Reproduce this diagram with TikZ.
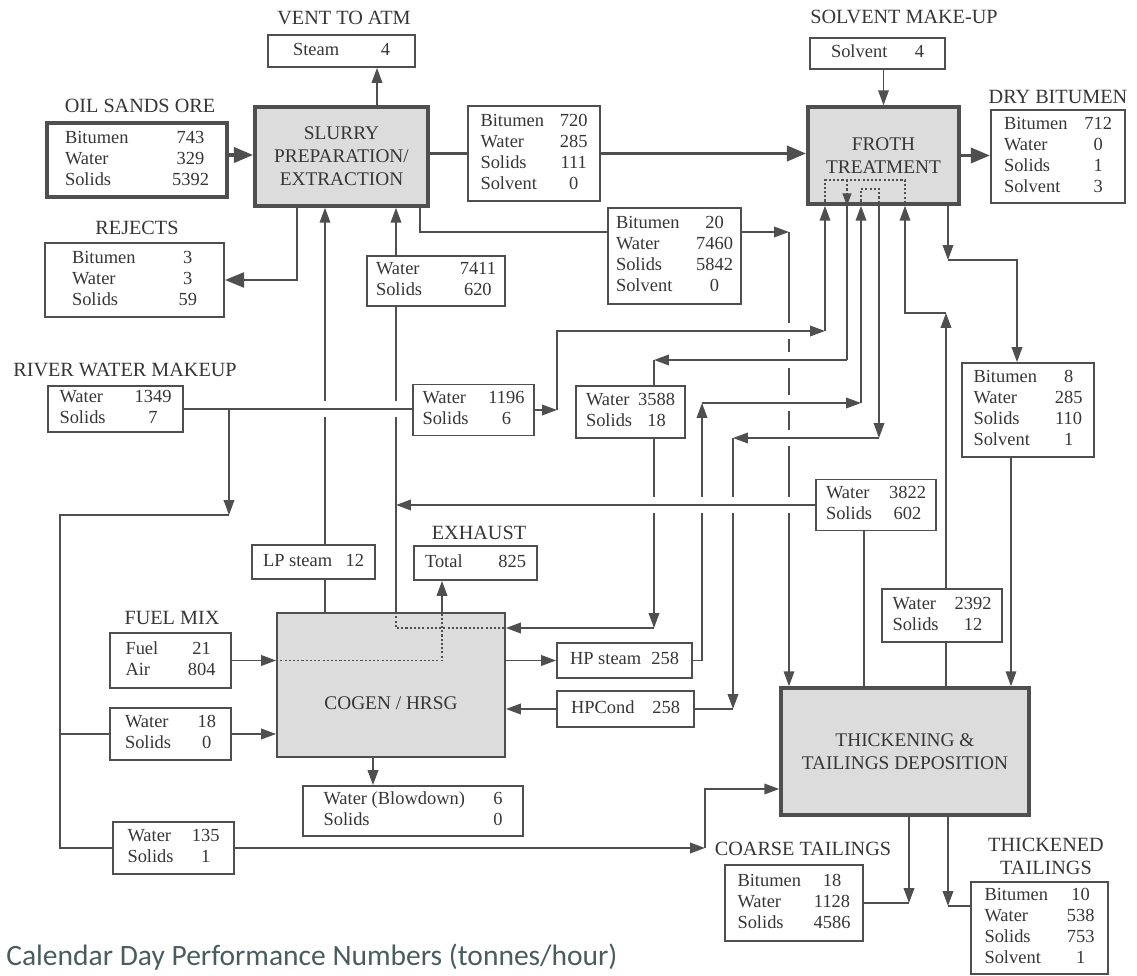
\documentclass[tikz,border=0pt]{standalone}
\usepackage{fontspec}
\setmainfont{Liberation Serif}
\newfontfamily\capfont{Carlito}
\usetikzlibrary{arrows.meta}
\definecolor{ink}{HTML}{4F4F4F}
\definecolor{txt}{HTML}{363636}
\definecolor{unitfill}{HTML}{DCDCDC}
\definecolor{capcol}{HTML}{4A5C5E}
\newcommand\boxfont{\fontsize{10.5}{12}\selectfont}
\newcommand\headfont{\fontsize{11.5}{13}\selectfont}
\newcommand\unitfont{\fontsize{11}{13}\selectfont}
\newcommand\rows[2]{\begin{tabular*}{#1}{@{}l@{\extracolsep{\fill}}c@{}}#2\end{tabular*}}
\tikzset{pipe/.style = {draw=ink, line width=1pt}}
\tikzset{flow/.style = {pipe, -{Triangle[length=8.5pt, width=6pt]}}}
\tikzset{bigflow/.style = {draw=ink, line width=2.2pt, -{Triangle[length=11pt, width=8.5pt]}}}
\tikzset{hop/.style = {preaction={draw=white, line width=9pt, arrows=-, shorten <=5pt, shorten >=5pt}}}
\tikzset{inline/.style = {draw=ink, line width=1pt, dash pattern=on 1.2pt off 1.2pt}}
\tikzset{box/.style = {draw=ink, line width=1pt, fill=white, text=txt, font=\boxfont, inner sep=0pt}}
\tikzset{unit/.style = {box, line width=2pt, fill=unitfill, font=\unitfont, align=center}}
\tikzset{heading/.style = {text=txt, font=\headfont, inner sep=0pt, align=center}}

\begin{document}
\begin{tikzpicture}[x=0.02cm, y=-0.02cm]
    \useasboundingbox (0,0) rectangle (1137,976);

    % units
    \node [unit, minimum width=3.46cm, minimum height=1.98cm] (slurry) at (341.5,156.5) {SLURRY\\PREPARATION/\\EXTRACTION};
    \node [unit, minimum width=3.02cm, minimum height=1.94cm] (froth) at (883.5,155.5) {FROTH\\TREATMENT};
    \node [unit, line width=1pt, minimum width=4.56cm, minimum height=2.88cm] (cogen) at (391,685) {};
    \node [text=txt, font=\unitfont, inner sep=0pt] (cogentxt) at (391,703) {COGEN / HRSG};
    \node [unit, minimum width=4.96cm, minimum height=2.54cm] (thick) at (905,751.5) {THICKENING \&\\TAILINGS DEPOSITION};

    % streams
    \node [heading] (ventT) at (344,18) {VENT TO ATM};
    \node [box, minimum width=2.94cm, minimum height=0.64cm] (vent) at (341.5,51) {\rows{1.94cm}{Steam & 4}};

    \node [heading] (oreT) at (140,106) {OIL SANDS ORE};
    \node [box, line width=2pt, minimum width=3.6cm, minimum height=1.48cm] (ore) at (137,160)
        {\rows{2.88cm}{Bitumen & 743\\ Water & 329\\ Solids & 5392}};

    \node [heading] (rejT) at (137,228) {REJECTS};
    \node [box, minimum width=3.58cm, minimum height=1.48cm] (rejects) at (134.5,280)
        {\rows{2.5cm}{Bitumen & 3\\ Water & 3\\ Solids & 59}};

    \node [box, minimum width=2.64cm, minimum height=1.9cm] (s720) at (534,153.5)
        {\rows{2.14cm}{Bitumen & 720\\ Water & 285\\ Solids & 111\\ Solvent & 0}};

    \node [heading] (solvT) at (904,17) {SOLVENT MAKE-UP};
    \node [box, minimum width=2.7cm, minimum height=0.62cm] (solvmk) at (877.5,53.5) {\rows{1.86cm}{Solvent & 4}};

    \node [heading] (dryT) at (1058,97) {DRY BITUMEN};
    \node [box, minimum width=2.68cm, minimum height=1.86cm] (dry) at (1058,156.5)
        {\rows{2.16cm}{Bitumen & 712\\ Water & 0\\ Solids & 1\\ Solvent & 3}};

    \node [box, minimum width=2.66cm, minimum height=1.92cm] (s7460) at (674.5,256)
        {\rows{2.34cm}{Bitumen & 20\\ Water & 7460\\ Solids & 5842\\ Solvent & 0}};
    \node [box, minimum width=2.76cm, minimum height=1cm] (w7411) at (436,281)
        {\rows{2.4cm}{Water & 7411\\ Solids & 620}};

    \node [heading] (rivT) at (125,370) {RIVER WATER MAKEUP};
    \node [box, minimum width=2.7cm, minimum height=0.92cm] (river) at (115.5,409)
        {\rows{2.24cm}{Water & 1349\\ Solids & 7}};
    \node [box, minimum width=2.42cm, minimum height=1.02cm] (w1196) at (473.5,410)
        {\rows{2.04cm}{Water & 1196\\ Solids & 6}};
    \node [box, minimum width=2.18cm, minimum height=1.04cm] (w3588) at (630.5,412)
        {\rows{1.78cm}{Water & 3588\\ Solids & 18}};
    \node [box, minimum width=2.64cm, minimum height=1.88cm] (bit8) at (1028,410)
        {\rows{2.18cm}{Bitumen & 8\\ Water & 285\\ Solids & 110\\ Solvent & 1}};
    \node [box, minimum width=2.4cm, minimum height=1.02cm] (w3822) at (876,505)
        {\rows{2cm}{Water & 3822\\ Solids & 602}};
    \node [box, minimum width=2.4cm, minimum height=1.06cm] (w2392) at (942,615.5)
        {\rows{1.98cm}{Water & 2392\\ Solids & 12}};

    \node [box, minimum width=2.46cm, minimum height=0.68cm] (lp) at (313.5,562) {\rows{2.02cm}{LP steam & 12}};
    \node [heading] (exhT) at (479,533) {EXHAUST};
    \node [box, minimum width=2.46cm, minimum height=0.68cm] (exhaust) at (475.5,563) {\rows{2.02cm}{Total & 825}};

    \node [heading] (fuelT) at (172,618) {FUEL MIX};
    \node [box, minimum width=2.42cm, minimum height=1.1cm] (fuel) at (170.5,660.5)
        {\rows{1.8cm}{Fuel & 21\\ Air & 804}};
    \node [box, minimum width=2.42cm, minimum height=1.04cm] (w18) at (170.5,734)
        {\rows{1.82cm}{Water & 18\\ Solids & 0}};
    \node [box, minimum width=2.7cm, minimum height=0.7cm] (hpsteam) at (624.5,660.5) {\rows{2.18cm}{HP steam & 258}};
    \node [box, minimum width=2.74cm, minimum height=0.72cm] (hpcond) at (625.5,709) {\rows{2.18cm}{HPCond & 258}};
    \node [box, minimum width=4.4cm, minimum height=1cm] (blow) at (413,811)
        {\rows{3.58cm}{Water (Blowdown) & 6\\ Solids & 0}};
    \node [box, minimum width=2.42cm, minimum height=1.04cm] (w135) at (173.5,848)
        {\rows{1.84cm}{Water & 135\\ Solids & 1}};

    \node [heading] (coarseT) at (803,849) {COARSE TAILINGS};
    \node [box, minimum width=2.76cm, minimum height=1.52cm] (coarse) at (794,903)
        {\rows{2.26cm}{Bitumen & 18\\ Water & 1128\\ Solids & 4586}};
    \node [heading] (thkT) at (1046,856) {THICKENED\\TAILINGS};
    \node [box, minimum width=2.74cm, minimum height=1.84cm] (thickened) at (1039.5,928)
        {\rows{2.2cm}{Bitumen & 10\\ Water & 538\\ Solids & 753\\ Solvent & 1}};

    \node [anchor=west, inner sep=0pt, text=capcol, font={\capfont\fontsize{16.8}{20}\selectfont}] (caption) at (6,957)
        {Calendar Day Performance Numbers (tonnes/hour)};

    % corner points
    \coordinate (oreA) at (0,155);
    \coordinate (ventx) at (377,0);
    \coordinate (rejc) at (297,280);
    \coordinate (lpx) at (325,0);
    \coordinate (wx) at (396,628);
    \coordinate (tailA) at (420,232);
    \coordinate (tailB) at (789,232);
    \coordinate (uA) at (557,0);
    \coordinate (uB) at (825,331);
    \coordinate (fb) at (847,360);
    \coordinate (c3588t) at (654,360);
    \coordinate (c3588b) at (654,628);
    \coordinate (hpA) at (702,403);
    \coordinate (hpB) at (861,403);
    \coordinate (hcA) at (879,438);
    \coordinate (hcB) at (733,438);
    \coordinate (pA) at (946,313);
    \coordinate (pB) at (905,313);
    \coordinate (gA) at (948,260);
    \coordinate (gB) at (1017,0);
    \coordinate (bx) at (1011,0);
    \coordinate (qx) at (864,0);
    \coordinate (kA) at (909,0);
    \coordinate (tA) at (948,906);
    \coordinate (mA) at (705,789);
    \coordinate (rA) at (229,515);
    \coordinate (lA) at (60,0);
    \coordinate (ex) at (442,0);
    \coordinate (bl) at (373,0);
    \coordinate (fd1) at (0,180);
    \coordinate (fd2) at (0,189);

    % main line
    \draw [bigflow] (ore.east |- oreA) -- (slurry.west |- oreA);
    \draw [draw=ink, line width=2.2pt] (s720.west -| slurry.east) -- (s720.west);
    \draw [bigflow] (s720.east) -- (s720.east -| froth.west);
    \draw [bigflow] (froth.east) -- (froth.east -| dry.west);
    \draw [bigflow, line width=1.6pt] (slurry.south -| rejc) |- (rejects.east);
    \draw [flow] (slurry.north -| ventx) -- (vent.south -| ventx);
    \draw [flow] (solvmk.south -| froth.north) -- (froth.north);

    % verticals first
    \draw [pipe] (slurry.south -| tailA) |- (s7460.west |- tailA);
    \draw [flow] (s7460.east |- tailB) -- (tailB);
    \draw [flow] (tailB) -- (thick.north -| tailB);
    \draw [pipe] (cogen.north -| lpx) -- (lp.south -| lpx);
    \draw [flow] (lp.north -| lpx) -- (slurry.south -| lpx);
    \draw [flow] (w7411.north -| wx) -- (slurry.south -| wx);
    \draw [pipe] (w7411.south -| wx) -- (cogen.north -| wx);
    \draw [pipe] (froth.south -| fb) -- (fb);
    \draw [pipe] (c3588t) -- (w3588.north -| c3588t);
    \draw [flow] (w3588.south -| c3588b) -- (c3588b);
    \draw [flow] (c3588b) -- (c3588b -| cogen.east);
    \draw [flow] (hpsteam.east) -| (hpA);
    \draw [flow] (hpB) -- (froth.south -| hpB);
    \draw [flow] (froth.south -| hcA) -- (hcA);
    \draw [flow] (hcB) -- (hcB |- hpcond.east);
    \draw [pipe] (hcB |- hpcond.east) -- (hpcond.east);
    \draw [flow] (hpcond.west) -- (hpcond.west -| cogen.east);
    \draw [flow] (hpsteam.west -| cogen.east) -- (hpsteam.west);
    \draw [flow] (w1196.east) -- (w1196.east -| uA);
    \draw [flow] (uB) -- (froth.south -| uB);
    \draw [flow] (w2392.north -| pA) -- (pA);
    \draw [flow] (pA) -| (froth.south -| pB);
    \draw [flow] (froth.south -| gA) -- (gA);
    \draw [flow] (gA) -| (bit8.north -| gB);
    \draw [flow] (bit8.south -| bx) -- (thick.north -| bx);
    \draw [pipe] (w2392.south -| pA) -- (thick.north -| pA);
    \draw [pipe] (thick.north -| qx) -- (w3822.south -| qx);

    % crossings over the verticals
    \draw [pipe, hop] (river.east) -- (w1196.west |- river.east);
    \draw [flow, hop] (w1196.east -| uA) |- (uB);
    \draw [flow, hop] (fb) -- (c3588t);
    \draw [flow, hop] (hpA) -- (hpB);
    \draw [flow, hop] (hcA) -- (hcB);
    \draw [flow, hop] (w3822.west) -- (w3822.west -| wx);

    % make-up water and tailings
    \draw [flow] (river.east -| rA) -- (rA);
    \draw [pipe] (rA) -| (lA |- w135.west) -- (w135.west);
    \draw [pipe] (lA |- w18.west) -- (w18.west);
    \draw [flow] (w18.east) -- (w18.east -| cogen.west);
    \draw [flow] (fuel.east) -- (fuel.east -| cogen.west);
    \draw [flow] (w135.east) -- (w135.east -| mA);
    \draw [flow] (w135.east -| mA) |- (thick.west |- mA);
    \draw [flow] (thick.south -| kA) -- (kA |- coarse.east);
    \draw [pipe] (kA |- coarse.east) -- (coarse.east);
    \draw [flow] (thick.south -| tA) -- (tA);
    \draw [pipe] (tA) -- (tA -| thickened.west);
    \draw [flow] (cogen.north -| ex) -- (exhaust.south -| ex);
    \draw [flow] (cogen.south -| bl) -- (blow.north -| bl);

    % paths inside the units
    \draw [inline] (fuel.east -| cogen.west) -- (fuel.east -| ex) -- (cogen.north -| ex);
    \draw [inline] (cogen.north -| wx) -- (wx) -- (wx -| cogen.east);
    \draw [inline] (froth.south -| uB) |- (pB |- fd1) -- (froth.south -| pB);
    \draw [inline, -{Triangle[length=7pt, width=5pt]}] (fb |- fd1) -- (froth.south -| fb);
    \draw [inline] (froth.south -| hpB) |- (hcA |- fd2) -- (froth.south -| hcA);
\end{tikzpicture}
\end{document}
